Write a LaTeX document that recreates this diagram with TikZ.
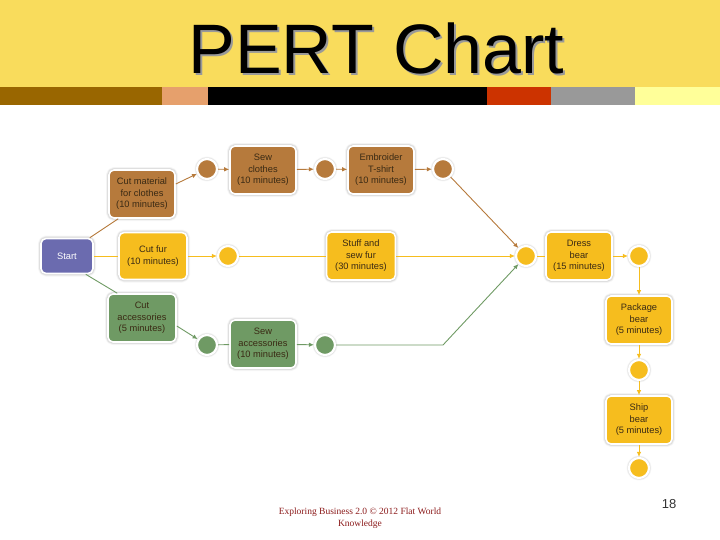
\documentclass[tikz,border=0pt]{standalone}
\usepackage{fontspec}
\setmainfont{Liberation Sans}
\newfontfamily\footserif{Liberation Serif}
\usetikzlibrary{shadows.blur,arrows.meta}
\definecolor{hdr}{HTML}{F9DC5C}
\definecolor{sbrown}{HTML}{996600}
\definecolor{ssalmon}{HTML}{E6A06C}
\definecolor{sred}{HTML}{CC3300}
\definecolor{sgray}{HTML}{999999}
\definecolor{slight}{HTML}{FFFF99}
\definecolor{cbrown}{HTML}{B67A3C}
\definecolor{cyellow}{HTML}{F6BD1E}
\definecolor{cgreen}{HTML}{6F9A64}
\definecolor{cpurple}{HTML}{6B6BAF}
\definecolor{txt}{HTML}{3A2A14}
\definecolor{footred}{HTML}{8B1A1A}
\tikzset{
  task/.style={rounded corners=5pt, draw=white, line width=1.6pt, fill=#1,
    minimum width=66pt, minimum height=48pt, inner sep=1pt, align=center,
    font=\fontsize{9.3}{11.5}\selectfont, text=txt,
    blur shadow={shadow xshift=0pt, shadow yshift=0pt, shadow blur radius=3pt, shadow opacity=55}},
  ev/.style={circle, fill=#1, draw=white, line width=2.2pt, minimum size=20pt, inner sep=0pt,
    blur shadow={shadow xshift=0pt, shadow yshift=0pt, shadow blur radius=2.5pt, shadow opacity=55}},
  link/.style={draw=#1, line width=0.9pt},
  arr/.style={draw=#1, line width=0.9pt, -{Latex[length=5pt,width=4.5pt]}},
}
\begin{document}
\begin{tikzpicture}[x=1pt,y=-1pt]
\useasboundingbox (0,0) rectangle (720,540);
% header
\fill[hdr] (0,0) rectangle (720,87);
\fill[sbrown] (0,87) rectangle (162,105);
\fill[ssalmon] (162,87) rectangle (208,105);
\fill[black] (208,87) rectangle (487,105);
\fill[sred] (487,87) rectangle (551,105);
\fill[sgray] (551,87) rectangle (635,105);
\fill[slight] (635,87) rectangle (720,105);
\node (titleshadow) [text=black!40, font=\fontsize{70}{76}\selectfont] at (378.5,50.5) {PERT Chart};
\node (title) [text=black, font=\fontsize{70}{76}\selectfont] at (376.5,48.5) {PERT Chart};
% nodes
\node (start) [task=cpurple, minimum width=52pt, minimum height=35pt, text=white] at (67,256) {Start};
\node (cm) [task=cbrown] at (142,194) {Cut material\\for clothes\\(10 minutes)};
\node (cf) [task=cyellow, minimum width=68pt, minimum height=47pt] at (153,256) {Cut fur\\(10 minutes)};
\node (ca) [task=cgreen, minimum width=68pt] at (142,318) {Cut\\accessories\\(5 minutes)};
\node (b1) [ev=cbrown] at (207,169) {};
\node (sew) [task=cbrown] at (263,170) {Sew\\clothes\\(10 minutes)};
\node (b2) [ev=cbrown] at (325,169) {};
\node (emb) [task=cbrown] at (381,170) {Embroider\\T-shirt\\(10 minutes)};
\node (b3) [ev=cbrown] at (443,169) {};
\node (y1) [ev=cyellow] at (228,256) {};
\node (stuff) [task=cyellow, minimum width=69pt] at (361,256) {Stuff and\\sew fur\\(30 minutes)};
\node (g1) [ev=cgreen] at (207,345) {};
\node (sewacc) [task=cgreen] at (263,344) {Sew\\accessories\\(10 minutes)};
\node (g2) [ev=cgreen] at (325,345) {};
\node (d1) [ev=cyellow] at (526,256) {};
\node (dress) [task=cyellow] at (579,256) {Dress\\bear\\(15 minutes)};
\node (d2) [ev=cyellow] at (639,256) {};
\node (pkg) [task=cyellow] at (639,320) {Package\\bear\\(5 minutes)};
\node (p2) [ev=cyellow] at (639,370) {};
\node (ship) [task=cyellow] at (639,420) {Ship\\bear\\(5 minutes)};
\node (s2) [ev=cyellow] at (639,468) {};
\coordinate (gbend) at (443,345);
% connectors
\draw[link=cbrown] ([xshift=-4pt]start.north east) -- ([xshift=10pt]cm.south west);
\draw[link=cyellow] (start) -- (cf);
\draw[link=cgreen] ([xshift=-8pt]start.south east) -- ([xshift=10pt]ca.north west);
\draw[arr=cbrown] ([yshift=10pt]cm.east) -- (b1);
\draw[arr=cbrown] (b1) -- (sew);
\draw[arr=cbrown] (sew) -- (b2);
\draw[arr=cbrown] (b2) -- (emb);
\draw[arr=cbrown] (emb) -- (b3);
\draw[arr=cbrown] (b3) -- (d1);
\draw[arr=cyellow] (cf) -- (y1);
\draw[link=cyellow] (y1) -- (stuff);
\draw[arr=cyellow] (stuff) -- (d1);
\draw[arr=cgreen] ([yshift=-8pt]ca.east) -- (g1);
\draw[link=cgreen] (g1) -- (sewacc);
\draw[arr=cgreen] (sewacc) -- (g2);
\draw[arr=cgreen] (g2) -- (gbend) -- (d1);
\draw[link=cyellow] (d1) -- (dress);
\draw[arr=cyellow] (dress) -- (d2);
\draw[arr=cyellow] (d2) -- (pkg);
\draw[arr=cyellow] (pkg) -- (p2);
\draw[arr=cyellow] (p2) -- (ship);
\draw[arr=cyellow] (ship) -- (s2);
% footer
\node (foot) [text=footred, align=center, font=\footserif\fontsize{9.5}{12}\selectfont] at (360,518) {Exploring Business 2.0 © 2012 Flat World\\Knowledge};
\node (pnum) [font=\fontsize{13}{15}\selectfont, text=black!80] at (669,504) {18};
\end{tikzpicture}
\end{document}
